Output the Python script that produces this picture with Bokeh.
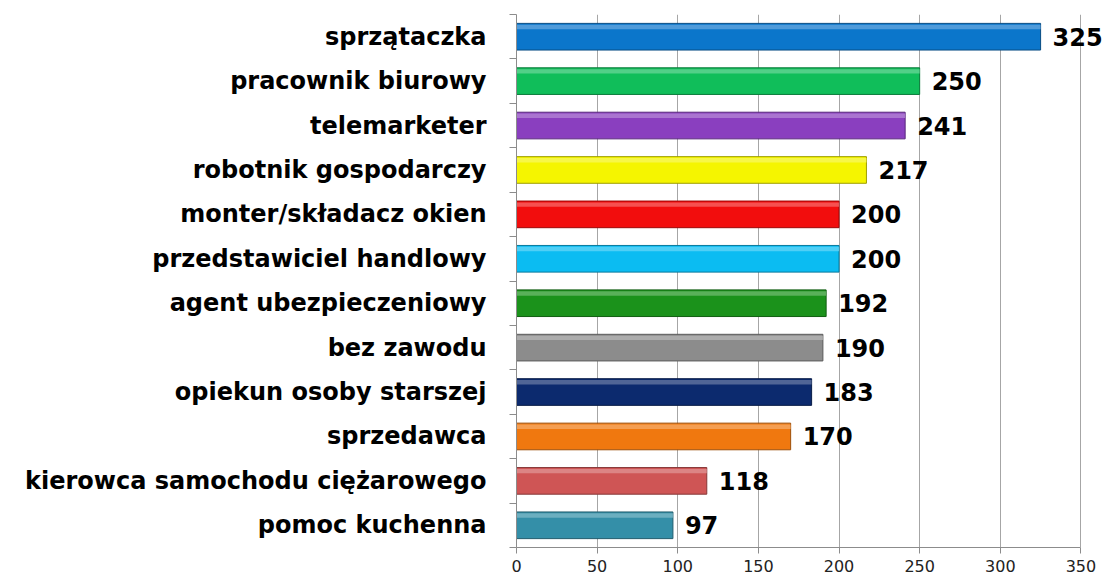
from bokeh.plotting import figure
from bokeh.models import Range1d, FixedTicker, ColumnDataSource, LabelSet
from bokeh.embed import file_html
from bokeh.resources import INLINE
from bokeh.core.properties import value

categories = ["sprzątaczka", "pracownik biurowy", "telemarketer", "robotnik gospodarczy",
              "monter/składacz okien", "przedstawiciel handlowy", "agent ubezpieczeniowy",
              "bez zawodu", "opiekun osoby starszej", "sprzedawca",
              "kierowca samochodu ciężarowego", "pomoc kuchenna"]
counts = [325, 250, 241, 217, 200, 200, 192, 190, 183, 170, 118, 97]
colors = ["#0b76cb", "#10be5a", "#8a3fbf", "#f5f500", "#f20d0d", "#0bbcf2",
          "#1b921b", "#8c8c8c", "#0c2a6e", "#f0780f", "#cf5555", "#348fa8"]
x_ticks = [0, 50, 100, 150, 200, 250, 300, 350]


def mix(c, t, f):
    c = c.lstrip("#")
    r, g, b = int(c[0:2], 16), int(c[2:4], 16), int(c[4:6], 16)
    return "#%02x%02x%02x" % tuple(int(v + (t - v) * f) for v in (r, g, b))


pos = [i + 0.5 for i in range(len(categories))]
src = ColumnDataSource(dict(
    y=pos, v=counts, c=colors,
    dark=[mix(c, 0, 0.35) for c in colors],
    light=[mix(c, 255, 0.35) for c in colors],
    hy=[p - 0.22 for p in pos],
    lab=[str(v) for v in counts],
))

# visible scale 0..350 over 564 px; a little extra room on the right for the top label
x_end = 364
p = figure(frame_width=round(564 * x_end / 350), frame_height=533,
           output_backend="svg", toolbar_location=None,
           x_range=Range1d(0, x_end), y_range=Range1d(len(categories), 0),
           min_border_left=516, min_border_right=0, min_border_top=14, min_border_bottom=0)
p.outline_line_color = None
p.background_fill_color = "white"

p.hbar(y="y", right="v", left=0, height=0.6, fill_color="c", line_color="dark",
       line_width=1, source=src)
p.hbar(y="hy", right="v", left=0, height=0.1, fill_color="light", line_color=None,
       fill_alpha=0.8, source=src)
labels = LabelSet(x="v", y="y", text="lab", x_offset=12, text_baseline="middle",
                  text_align="left", text_font=value("DejaVu Sans"),
                  text_font_style="bold", text_font_size="24px",
                  text_color="black", source=src)
p.add_layout(labels)

# x axis
p.xaxis.ticker = FixedTicker(ticks=x_ticks)
p.xaxis.bounds = (0, 350)
p.xaxis.axis_line_color = "#8c8c8c"
p.xaxis.major_tick_line_color = "#8c8c8c"
p.xaxis.major_tick_out = 6
p.xaxis.major_tick_in = 0
p.xaxis.minor_tick_line_color = None
p.xaxis.major_label_standoff = 6
p.xaxis.major_label_text_font = "DejaVu Sans"
p.xaxis.major_label_text_font_size = "16px"
p.xaxis.major_label_text_color = "#222222"

p.xgrid.ticker = FixedTicker(ticks=x_ticks)
p.xgrid.grid_line_color = "#a6a6a6"
p.ygrid.grid_line_color = None

# y axis
p.yaxis.ticker = FixedTicker(ticks=pos, minor_ticks=list(range(len(categories) + 1)))
p.yaxis.major_label_overrides = {pp: c for pp, c in zip(pos, categories)}
p.yaxis.axis_line_color = "#8c8c8c"
p.yaxis.major_tick_line_color = None
p.yaxis.major_tick_out = 0
p.yaxis.major_tick_in = 0
p.yaxis.minor_tick_line_color = "#8c8c8c"
p.yaxis.minor_tick_out = 7
p.yaxis.minor_tick_in = 0
p.yaxis.major_label_standoff = 23
p.yaxis.major_label_text_font = "DejaVu Sans"
p.yaxis.major_label_text_font_style = "bold"
p.yaxis.major_label_text_font_size = "24px"
p.yaxis.major_label_text_color = "black"

open("out.html", "w").write(file_html(p, INLINE))
